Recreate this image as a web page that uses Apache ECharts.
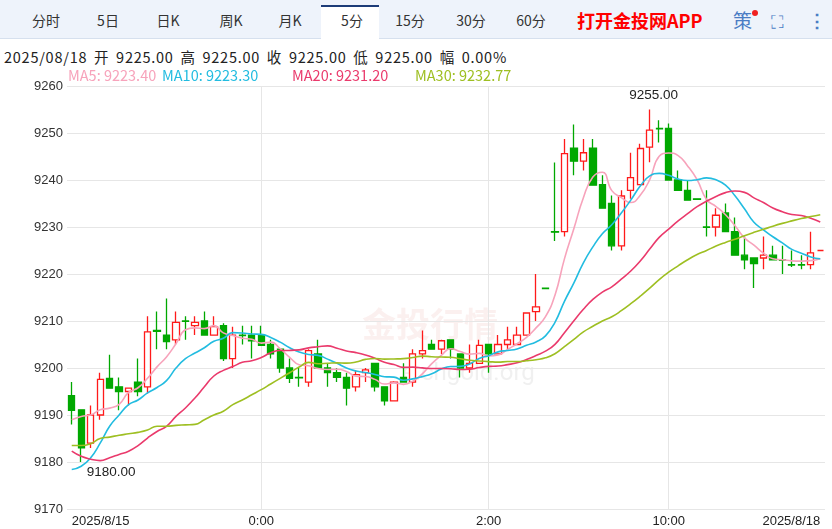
<!DOCTYPE html>
<html><head><meta charset="utf-8">
<script src="https://cdn.jsdelivr.net/npm/echarts@6/dist/echarts.min.js"></script>
<style>
body{margin:0;width:832px;height:529px;overflow:hidden;font-family:"Noto Sans CJK SC","Noto Sans",sans-serif;background:#fff;position:relative}
#tabs{position:absolute;left:0;top:0;width:832px;height:38px;background:#eef3fb;border-bottom:1px solid #d6e0ee}
.t{position:absolute;top:0;height:38px;line-height:40px;font-size:14px;color:#333;transform:translateX(-50%)}
#sel{position:absolute;left:321px;top:5px;width:58px;height:34px;background:#fff;border-top:2px solid #1d3c78;box-sizing:border-box}
#info{position:absolute;left:4px;top:46px;font-size:14.5px;letter-spacing:0.75px;word-spacing:2.8px;color:#222;white-space:nowrap}
#chart{position:absolute;left:0;top:0;width:832px;height:529px}
</style></head><body>
<div id="tabs"><div id="sel"></div></div>
<div id="info"></div>
<div id="chart"></div>
<script>
const tabs=[['分时',46],['5日',108],['日K',168],['周K',231],['月K',290],['5分',352],['15分',410],['30分',471],['60分',531]];
const opens=[9194.1,9191.1,9184,9190,9197.8,9196,9195,9197,9196,9208,9207,9206,9210,9209,9210,9207,9209,9202,9207,9207,9207,9205,9204,9200,9198,9197,9203,9200,9199,9198,9196,9199,9201,9196,9193,9198,9197,9203,9205,9204,9206,9203,9200,9201,9205,9203,9205,9205,9207,9212,9217,9229,9229,9246.8,9244,9246.8,9239,9235,9226,9237.8,9239,9247,9251,9251,9240,9237.8,9236,9230,9230,9233,9229,9224,9223.4,9223.4,9224,9223,9222,9222,9222,9225];
const closes=[9191,9183,9190,9197.6,9195.7,9195,9195.7,9195,9207.7,9207.8,9205.6,9209.7,9209.9,9209.7,9207,9208.8,9202,9207,9206.9,9205.8,9204.8,9203,9200,9197.8,9197.9,9203.7,9200,9199,9198,9195.7,9198.6,9199.6,9196,9193,9197,9197,9203,9203.7,9204,9205.8,9204,9200,9201,9204.8,9203,9205,9206,9207,9211.7,9213,9216.9,9228.9,9245.6,9244,9245.8,9238.9,9234,9226,9236.6,9240.5,9246.7,9250.6,9250.9,9240,9237.8,9235.7,9235.9,9229.9,9232.5,9229,9224,9223,9222.2,9224,9223,9222.9,9221.9,9221.9,9224.5,9225];
const highs=[9197,9191.1,9192,9199,9202.8,9198,9195.7,9202,9211,9212,9214.8,9212,9211,9211,9212,9211,9209.5,9208.8,9209,9209,9209,9206,9204,9202,9200,9204,9206,9201,9200,9199,9199.5,9200,9201,9196,9197.2,9201,9204,9208,9206,9206,9206,9203,9205,9206,9205,9207,9208.8,9208.8,9211.7,9220,9217,9243.7,9248.7,9251.8,9248.7,9248.7,9241,9236.7,9237.8,9245.8,9247.7,9255,9252.7,9252,9242,9240,9236,9237.8,9234,9235,9232,9228,9223.4,9228,9226,9226,9225,9224,9229,9225];
const lows=[9188,9180,9183,9189,9195.7,9191,9192,9194,9194.6,9204,9204,9205,9206,9207,9207,9207,9201.5,9200,9205,9202,9204.8,9202,9199,9196.8,9196,9196,9200,9196,9197,9192,9195,9197,9195,9192,9193,9197,9196,9202,9204,9203,9202,9198,9199,9201,9199,9203,9204,9205,9207,9210,9216.8,9227,9228,9241,9242,9238.9,9234,9225,9225,9236,9239,9243.8,9248,9240,9237.8,9235.7,9235.8,9228,9228,9229,9224,9221,9217,9221,9223,9220,9221.5,9221,9221,9225];
// MA values before a full window is available
const ma5Head=[9189,9189.7,9190,9191.1];
const ma10Head=[9178.4,9179.1,9180.9,9184,9187.6,9190,9192.2,9193.2,9194.7];
const ma20Head=[9182.3,9181.2,9180.6,9180.3,9180.9,9181.6,9182.3,9183.5,9185.1,9186.5,9187.6,9189.7,9191.5,9193.6,9196,9198.3,9199.5,9200.3,9201.2];
const ma30Head=[9183.5,9183.5,9183.9,9185,9185.3,9185.7,9186,9186.3,9186.8,9187.6,9187.6,9187.8,9187.9,9188,9189,9190,9190.8,9192.2,9193.2,9194.3,9195.4,9196.6,9197.8,9199,9200.2,9201.2,9200.9,9201,9201.1];
const tickIdx=[0,20,44,63,79];
const tickText=['2025/8/15','0:00','2:00','10:00','2025/8/18'];
const gridIdx=[20,44,63];
const yTicks=[9170,9180,9190,9200,9210,9220,9230,9240,9250,9260];

function ma(n,head){const r=head.slice();for(let i=n-1;i<closes.length;i++){let s=0;for(let j=i-n+1;j<=i;j++)s+=closes[j];r.push(+(s/n).toFixed(2));}return r;}

const tb=document.getElementById('tabs');
tabs.forEach(([t,x],i)=>{const d=document.createElement('div');d.className='t';d.style.left=x+'px';d.textContent=t;tb.appendChild(d);});
tb.insertAdjacentHTML('beforeend','<div style="position:absolute;left:577px;top:0;line-height:40px;font-size:18px;font-weight:bold;color:#f00">打开金投网APP</div><div style="position:absolute;left:733px;top:0;line-height:40px;font-size:19px;color:#4a7cc4">策</div><div style="position:absolute;left:752px;top:10px;width:6px;height:6px;border-radius:3px;background:#f02020"></div><div style="position:absolute;left:771px;top:0;line-height:40px;font-size:18px;color:#4a7cc4">⛶</div><div style="position:absolute;left:808px;top:0;line-height:38px;font-size:18px;font-weight:bold;color:#4a7cc4">⋮</div>');
document.getElementById('info').textContent='2025/08/18 开 9225.00 高 9225.00 收 9225.00 低 9225.00 幅 0.00%';

const cats=closes.map((_,i)=>String(i));
const maCols=['#f7a3bb','#22bce0','#ea3a6c','#9ebf22'];
const mas=[ma(5,ma5Head),ma(10,ma10Head),ma(20,ma20Head),ma(30,ma30Head)];
const names=['MA5','MA10','MA20','MA30'];
const lf='14.5px "Noto Sans CJK SC"';
const chart=echarts.init(document.getElementById('chart'),null,{renderer:'canvas'});
chart.setOption({
  animation:false,
  graphic:[
    {type:'text',left:68,top:68,style:{text:'MA5: 9223.40',fill:maCols[0],font:lf}},
    {type:'text',left:162,top:68,style:{text:'MA10: 9223.30',fill:maCols[1],font:lf}},
    {type:'text',left:292,top:68,style:{text:'MA20: 9231.20',fill:maCols[2],font:lf}},
    {type:'text',left:415,top:68,style:{text:'MA30: 9232.77',fill:maCols[3],font:lf}},
    {type:'text',left:362,top:307,z:-1,style:{text:'金投行情',fill:'rgba(230,150,140,0.14)',font:'bold 34px "Noto Sans CJK SC"'}},
    {type:'text',left:402,top:362,z:-1,style:{text:'e.chgold.org',fill:'rgba(170,170,170,0.18)',font:'24px Roboto'}}
  ],
  grid:{left:67,right:7,top:86,bottom:20},
  xAxis:{type:'category',data:cats,boundaryGap:true,
    axisLine:{show:false},axisTick:{show:false},
    axisLabel:{interval:(i)=>tickIdx.includes(i),formatter:(v,i)=>tickText[tickIdx.indexOf(i)]||'',color:'#222',fontSize:13,margin:6,alignMinLabel:'left',alignMaxLabel:'right',showMinLabel:true,showMaxLabel:true},
    splitLine:{show:false}},
  yAxis:{type:'value',min:yTicks[0],max:yTicks[yTicks.length-1],interval:10,
    axisLine:{show:false},axisTick:{show:false},
    axisLabel:{color:'#333',fontSize:13,margin:4,formatter:(v)=>String(v)},
    splitLine:{lineStyle:{color:'#e6e6e6'}}},
  series:[
    {type:'candlestick',barWidth:'72%',data:opens.map((o,i)=>[o,closes[i],lows[i],highs[i]]),
     itemStyle:{color:'#ffffff',color0:'#00a800',borderColor:'#ff1a1a',borderColor0:'#00a800',borderWidth:1.3},
     markLine:{silent:true,symbol:'none',label:{show:false},lineStyle:{color:'#e6e6e6',type:'solid',width:1},z:0,
       data:gridIdx.map(i=>({xAxis:i}))},
     markPoint:{symbolSize:0,label:{show:true,color:'#222',fontSize:13.5},
       data:[{coord:[61,highs[61]],value:'9255.00',label:{position:'top',offset:[4,-2],formatter:'9255.00'}},
             {coord:[1,lows[1]],value:'9180.00',label:{position:'bottom',offset:[30,-2],formatter:'9180.00'}}]}},
    ...mas.map((d,k)=>({type:'line',name:names[k],data:d,symbol:'none',smooth:true,lineStyle:{width:1.6,color:maCols[k]},z:3}))
  ]
});
</script></body></html>
